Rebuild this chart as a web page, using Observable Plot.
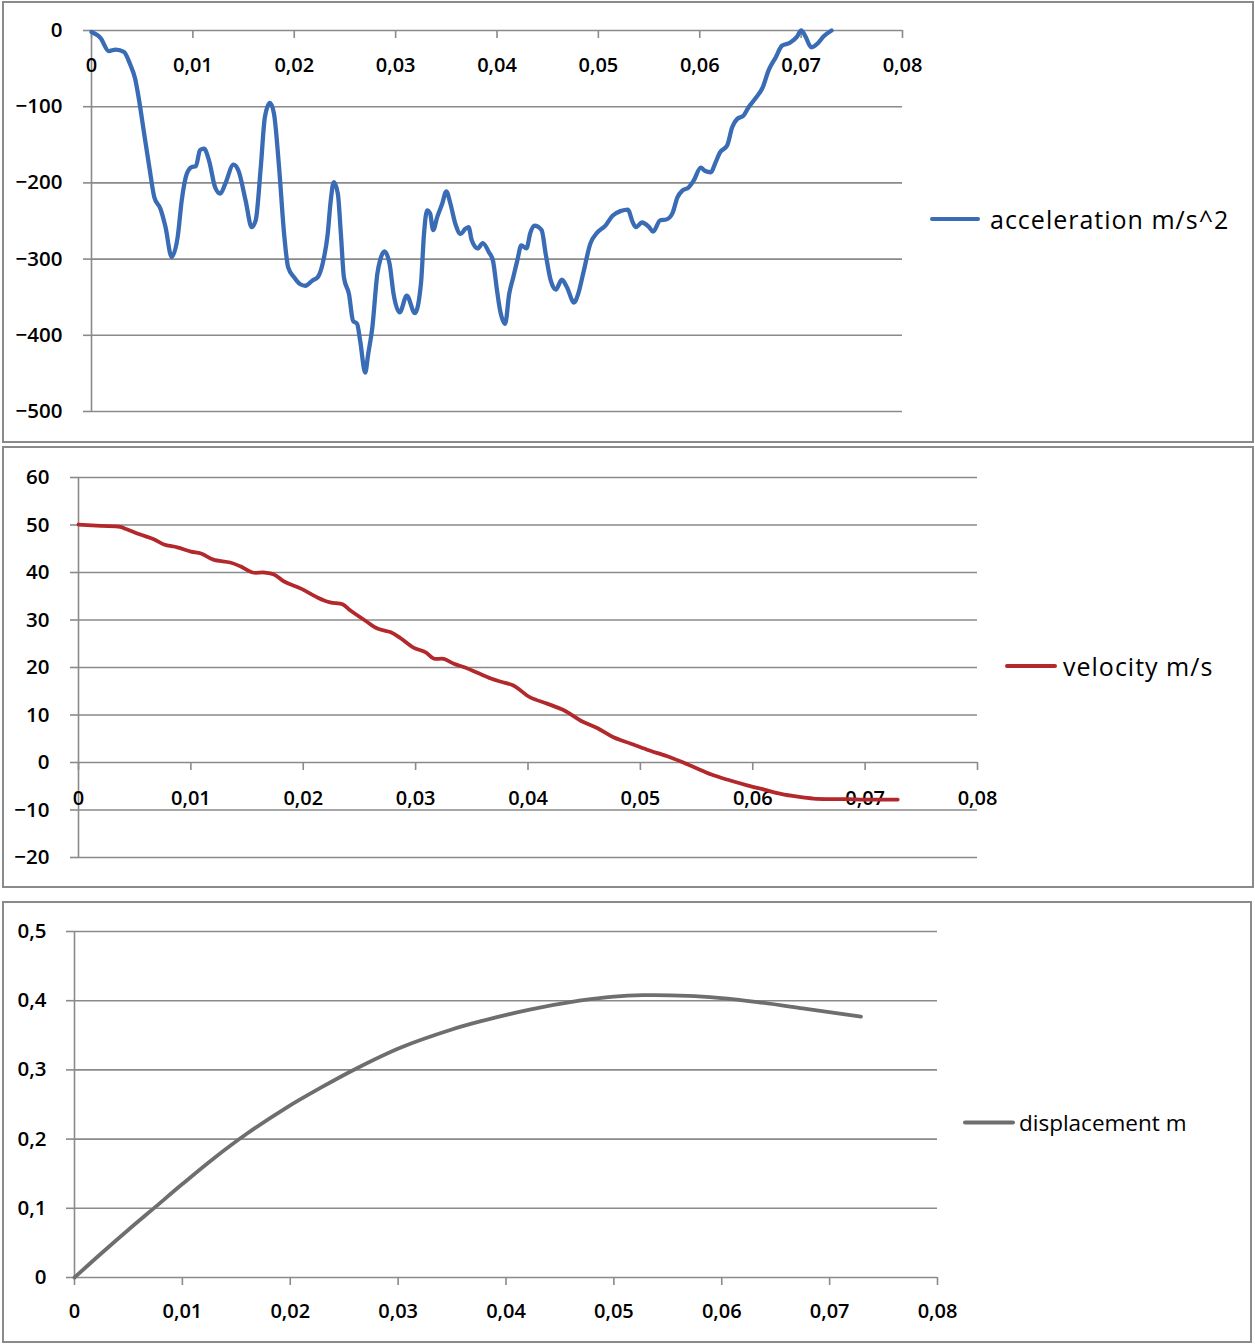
<!DOCTYPE html>
<html>
<head>
<meta charset="utf-8">
<script src="https://cdn.jsdelivr.net/npm/d3@7"></script>
<script src="https://cdn.jsdelivr.net/npm/@observablehq/plot@0.6"></script>
<style>
  html, body { margin: 0; padding: 0; background: #fff; }
  #page { position: relative; width: 1255px; height: 1344px; overflow: hidden; background: #fff; }
  .panel { position: absolute; box-sizing: border-box; border: 2px solid #8a8a8a; }
  .chart { position: absolute; left: 0; }
  .chart svg { overflow: visible; }
  .legend { position: absolute; display: flex; align-items: center; font-family: "Open Sans", sans-serif; color: #000; white-space: nowrap; transform: translateY(-50%); }
  .legend .swatch { display: inline-block; height: 4px; border-radius: 2px; }
</style>
</head>
<body>
<div id="page"></div>
<script>
// ---------- data ----------
const accelTime = [0,0.0009,0.0017,0.0024,0.0032,0.0038,0.0043,0.0047,0.0052,0.0057,0.0062,0.0068,0.0073,0.0079,0.0085,0.0089,0.0094,0.0099,0.0103,0.0107,0.0111,0.0116,0.0122,0.0127,0.0132,0.0140,0.0145,0.0152,0.0158,0.0162,0.0167,0.0171,0.0176,0.0180,0.0185,0.0190,0.0194,0.0200,0.0206,0.0211,0.0218,0.0223,0.0228,0.0233,0.0236,0.0239,0.0243,0.0246,0.0249,0.0254,0.0258,0.0262,0.0265,0.0270,0.0273,0.0277,0.0282,0.0285,0.0289,0.0294,0.0298,0.0304,0.0311,0.0319,0.0325,0.0328,0.0331,0.0334,0.0337,0.0341,0.0346,0.0350,0.0354,0.0359,0.0364,0.0369,0.0372,0.0375,0.0381,0.0386,0.0392,0.0396,0.0400,0.0403,0.0408,0.0412,0.0416,0.0420,0.0424,0.0429,0.0433,0.0437,0.0444,0.0448,0.0453,0.0458,0.0464,0.0469,0.0476,0.0480,0.0485,0.0492,0.0499,0.0507,0.0514,0.0522,0.0529,0.0534,0.0537,0.0543,0.0550,0.0554,0.0561,0.0567,0.0573,0.0578,0.0583,0.0589,0.0594,0.0601,0.0605,0.0611,0.0615,0.0620,0.0627,0.0632,0.0637,0.0643,0.0648,0.0655,0.0662,0.0668,0.0675,0.0681,0.0689,0.0696,0.0700,0.0704,0.0710,0.0717,0.0722,0.0730];
const accelValue = [-2,-10,-27,-25,-28,-44,-63,-92,-136,-179,-219,-234,-258,-297,-271,-223,-188,-179,-178,-157,-155,-171,-206,-214,-201,-176,-184,-223,-258,-249,-179,-114,-95,-109,-179,-267,-311,-324,-333,-335,-328,-324,-306,-267,-223,-199,-214,-267,-324,-346,-381,-385,-407,-449,-424,-390,-319,-300,-290,-306,-346,-370,-348,-371,-332,-267,-236,-240,-262,-245,-227,-211,-227,-254,-267,-260,-258,-275,-286,-279,-291,-302,-341,-367,-385,-346,-324,-302,-282,-286,-265,-256,-262,-293,-328,-340,-327,-337,-357,-346,-319,-280,-265,-256,-243,-237,-235,-252,-258,-252,-258,-264,-249,-248,-240,-219,-210,-206,-197,-180,-184,-186,-175,-160,-151,-127,-116,-112,-101,-89,-75,-52,-35,-20,-16,-8,0,-7,-22,-16,-8,0];

const velTime = [0,0.002,0.0037,0.0043,0.0055,0.0067,0.0076,0.0088,0.0100,0.0109,0.0120,0.0135,0.0144,0.0155,0.0165,0.0174,0.0183,0.0198,0.0213,0.0224,0.0235,0.0242,0.0255,0.0266,0.0278,0.0287,0.0298,0.0309,0.0316,0.0325,0.0334,0.0344,0.0355,0.0367,0.0376,0.0387,0.0402,0.0417,0.0432,0.0447,0.0462,0.0476,0.0491,0.0506,0.0524,0.0536,0.0551,0.0565,0.0580,0.0595,0.0610,0.0625,0.0640,0.0654,0.0669,0.0684,0.0699,0.0714,0.0729];
const velValue = [50.1,49.8,49.6,49.1,48.0,47.0,45.9,45.3,44.4,44.0,42.7,42.1,41.3,40.0,40.0,39.6,38.1,36.6,34.7,33.7,33.3,32.0,29.9,28.2,27.4,26.1,24.2,23.2,21.9,21.8,20.8,20.0,18.9,17.7,17.0,16.2,13.7,12.4,11.0,8.8,7.2,5.3,4.0,2.7,1.3,0.2,-1.3,-2.7,-3.8,-4.8,-5.7,-6.6,-7.2,-7.6,-7.7,-7.7,-7.8,-7.8,-7.8];

const dispTime = [0,0.0025,0.005,0.0075,0.0100,0.0129,0.0160,0.0197,0.0228,0.0260,0.0302,0.0349,0.0376,0.0422,0.0468,0.0500,0.0527,0.0569,0.0597,0.0633,0.0675,0.0729];
const dispValue = [0,0.035,0.069,0.102,0.135,0.172,0.208,0.246,0.274,0.301,0.332,0.358,0.370,0.387,0.400,0.406,0.408,0.407,0.404,0.398,0.389,0.377];

const xTicks = [0,0.01,0.02,0.03,0.04,0.05,0.06,0.07,0.08];
const xTickLabels = ["0","0,01","0,02","0,03","0,04","0,05","0,06","0,07","0,08"];
const accelYTicks = [0,-100,-200,-300,-400,-500];
const accelYLabels = ["0","\u2212100","\u2212200","\u2212300","\u2212400","\u2212500"];
const velYTicks = [60,50,40,30,20,10,0,-10,-20];
const velYLabels = ["60","50","40","30","20","10","0","\u221210","\u221220"];
const dispYTicks = [0,0.1,0.2,0.3,0.4,0.5];
const dispYLabels = ["0","0,1","0,2","0,3","0,4","0,5"];

const seriesNames = ["acceleration m/s^2","velocity m/s","displacement m"];
const seriesColors = ["#3a6bb5","#b3292b","#6e6e6e"];

// ---------- helpers ----------
const GRID = "#8a8a8a";
const FONT = "'Open Sans', 'DejaVu Sans', sans-serif";
const page = document.getElementById("page");

function rows(t, v) { return t.map((d, i) => ({t: d, v: v[i]})); }
function labelOf(ticks, labels) { return d => labels[ticks.indexOf(d)]; }

function panelChart(cfg) {
  const plotH = cfg.height - cfg.marginTop - cfg.marginBottom;
  const span = cfg.yDomain[1] - cfg.yDomain[0];
  const tickLen = 8 * span / plotH; // 8px expressed in data units
  const axisAt = cfg.axisAt;
  return Plot.plot({
    width: 1255,
    height: cfg.height,
    marginLeft: cfg.marginLeft,
    marginRight: cfg.marginRight,
    marginTop: cfg.marginTop,
    marginBottom: cfg.marginBottom,
    x: {domain: [0, 0.08], axis: null},
    y: {domain: cfg.yDomain},
    style: {fontFamily: FONT, fontSize: "20px", fontWeight: 600, color: "#000", background: "transparent", overflow: "visible"},
    marks: [
      Plot.ruleY(cfg.yTicks, {x1: 0, x2: 0.08, stroke: GRID, strokeWidth: 1.6}),
      Plot.axisY(cfg.yTicks, {tickSize: 8, tickPadding: cfg.tickPaddingY, tickFormat: labelOf(cfg.yTicks, cfg.yLabels), stroke: GRID, strokeWidth: 1.6, fill: "#000", fontSize: 20.5, label: null}),
      Plot.ruleX([0], {y1: cfg.yDomain[0], y2: cfg.yDomain[1], stroke: GRID, strokeWidth: 1.6}),
      Plot.ruleX(xTicks, {x: d => d, y1: axisAt, y2: axisAt - tickLen, stroke: GRID, strokeWidth: 1.6}),
      Plot.text(xTicks, {x: d => d, y: axisAt, dy: cfg.labelDy, text: labelOf(xTicks, xTickLabels), fill: "#000"}),
      Plot.line(rows(cfg.t, cfg.v), {x: "t", y: "v", stroke: cfg.color, strokeWidth: cfg.strokeWidth, curve: cfg.curve, strokeLinecap: "round", strokeLinejoin: "round"})
    ]
  });
}

function addPanel(box, svgTop, chart, legend) {
  const p = document.createElement("div");
  p.className = "panel";
  Object.assign(p.style, {left: box[0] + "px", top: box[1] + "px", width: box[2] + "px", height: box[3] + "px"});
  page.appendChild(p);
  const c = document.createElement("div");
  c.className = "chart";
  c.style.top = svgTop + "px";
  c.appendChild(chart);
  page.appendChild(c);
  const l = document.createElement("div");
  l.className = "legend";
  Object.assign(l.style, {left: legend.x + "px", top: legend.y + "px", fontSize: legend.fontSize + "px", letterSpacing: legend.spacing + "px"});
  const sw = document.createElement("span");
  sw.className = "swatch";
  Object.assign(sw.style, {width: legend.w + "px", background: legend.color, marginRight: legend.gap + "px"});
  l.appendChild(sw);
  const tx = document.createElement("span");
  tx.textContent = legend.text;
  l.appendChild(tx);
  page.appendChild(l);
}

// Panel 1: acceleration
addPanel([2, 1, 1252, 442], 0, panelChart({
  height: 445, marginLeft: 91, marginRight: 353, marginTop: 30, marginBottom: 34,
  yDomain: [-500, 0], yTicks: accelYTicks, yLabels: accelYLabels, tickPaddingY: 21,
  axisAt: 0, labelDy: 35, t: accelTime, v: accelValue, color: seriesColors[0], strokeWidth: 4.3, curve: "monotone-x"
}), {x: 930, y: 219, w: 50, gap: 10, color: seriesColors[0], text: seriesNames[0], fontSize: 25, spacing: 1.0});

// Panel 2: velocity
addPanel([2, 446, 1252, 442], 445, panelChart({
  height: 445, marginLeft: 78, marginRight: 278, marginTop: 32, marginBottom: 33,
  yDomain: [-20, 60], yTicks: velYTicks, yLabels: velYLabels, tickPaddingY: 21,
  axisAt: 0, labelDy: 36, t: velTime, v: velValue, color: seriesColors[1], strokeWidth: 3.8, curve: "catmull-rom"
}), {x: 1005, y: 666, w: 52, gap: 6, color: seriesColors[1], text: seriesNames[1], fontSize: 25, spacing: 1.0});

// Panel 3: displacement
addPanel([2, 901, 1250, 442], 890, panelChart({
  height: 454, marginLeft: 74, marginRight: 318, marginTop: 41, marginBottom: 67,
  yDomain: [0, 0.5], yTicks: dispYTicks, yLabels: dispYLabels, tickPaddingY: 20,
  axisAt: 0, labelDy: 34, t: dispTime, v: dispValue, color: seriesColors[2], strokeWidth: 3.8, curve: "catmull-rom"
}), {x: 963, y: 1122, w: 52, gap: 4, color: seriesColors[2], text: seriesNames[2], fontSize: 22.5, spacing: 0});
</script>
</body>
</html>
